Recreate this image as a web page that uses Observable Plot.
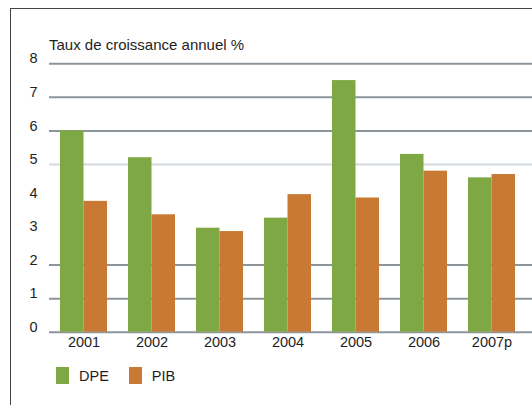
<!DOCTYPE html>
<html><head><meta charset="utf-8">
<script src="https://cdn.jsdelivr.net/npm/d3@7"></script>
<script src="https://cdn.jsdelivr.net/npm/@observablehq/plot@0.6"></script>
<style>
html,body{margin:0;padding:0;background:#fff;}
body{width:532px;height:405px;position:relative;overflow:hidden;font-family:"Liberation Sans",Arial,sans-serif;color:#1e1e1e;}
#frame{position:absolute;left:10px;top:8px;width:560px;height:440px;border-top:1.5px solid #444;border-left:1.5px solid #444;}
#title{position:absolute;left:49px;top:37px;font-size:15px;line-height:15px;z-index:2;white-space:nowrap;}
#chart{position:absolute;left:0;top:50px;z-index:1;}
#legend{position:absolute;left:56px;top:359px;z-index:2;}
#legend .lg-swatch > svg{margin-right:10px !important;}
#legend .lg-swatch{margin-right:20px !important;}
#legend .lg-swatches{margin:0 !important;}
</style></head><body>
<div id="frame"></div>
<div id="title">Taux de croissance annuel %</div>
<div id="chart"></div>
<div id="legend"></div>
<script>
const years = ["2001","2002","2003","2004","2005","2006","2007p"];
const series = ["DPE","PIB"];
const dpe = [6.0, 5.2, 3.1, 3.4, 7.5, 5.3, 4.6];
const pib = [3.9, 3.5, 3.0, 4.1, 4.0, 4.8, 4.7];
const colors = ["#7ea843", "#c87a34"];
const yTicks = [0, 1, 2, 3, 4, 5, 6, 7, 8];
const darkGrid = [0, 1, 2, 6, 7, 8];
const lightGrid = [5];

const rows = years.flatMap((year, i) => [
  {year, series: series[0], value: dpe[i]},
  {year, series: series[1], value: pib[i]}
]);
const half = 23.5;
const font = '"Liberation Sans", Arial, sans-serif';

const plot = Plot.plot({
  width: 532, height: 310,
  marginLeft: 49, marginRight: 0, marginTop: 13.3, marginBottom: 28.3,
  style: {fontFamily: font, fontSize: "14.5px", color: "#1e1e1e", background: "transparent"},
  x: {domain: years, paddingInner: 0.31, paddingOuter: 0.2, align: 0.4, label: null},
  y: {domain: [0, 8], label: null},
  color: {domain: series, range: colors},
  marks: [
    Plot.ruleY(lightGrid, {y: d => d, stroke: "#d3d9de", strokeWidth: 2}),
    Plot.ruleY(darkGrid, {y: d => d, stroke: "#8c949b", strokeWidth: 2}),
    Plot.barY(rows.filter(d => d.series === series[0]), {x: "year", y: "value", fill: "series", insetRight: half}),
    Plot.barY(rows.filter(d => d.series === series[1]), {x: "year", y: "value", fill: "series", insetLeft: half}),
    Plot.axisX({tickSize: 0, tickPadding: 5, label: null}),
    Plot.axisY({ticks: yTicks, tickSize: 0, tickPadding: 12, dy: -5, label: null})
  ]
});
document.getElementById("chart").append(plot);

const leg = Plot.legend({
  color: {domain: series, range: colors},
  legend: "swatches",
  swatchWidth: 13, swatchHeight: 17,
  className: "lg",
  style: {fontFamily: font, fontSize: "14.5px", color: "#1e1e1e"}
});
document.getElementById("legend").append(leg);
</script>
</body></html>
